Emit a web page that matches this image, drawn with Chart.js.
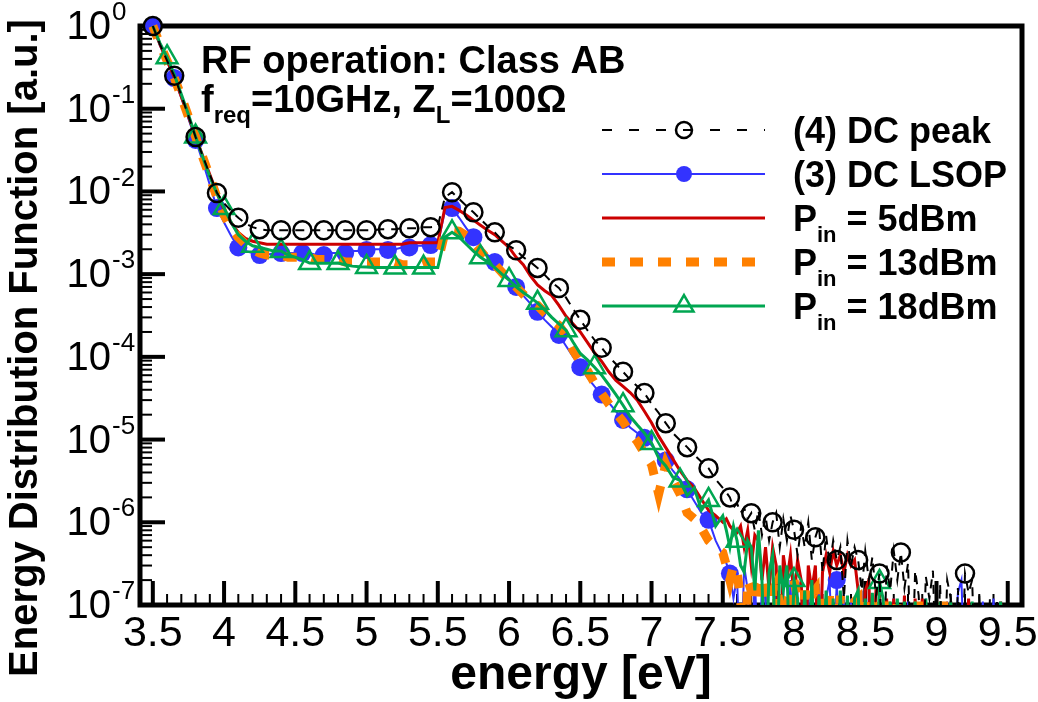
<!DOCTYPE html>
<html>
<head>
<meta charset="utf-8">
<title>Energy Distribution Function</title>
<script src="https://cdn.jsdelivr.net/npm/chart.js@4.4.1/dist/chart.umd.min.js"></script>
<style>
  html, body { margin: 0; padding: 0; background: #ffffff; }
  canvas { display: block; }
</style>
</head>
<body>
<canvas id="edf" width="1038" height="702"></canvas>
<script>
// Energy grid [eV]: 0.05 eV up to 7.45 eV, 0.025 eV through the noisy tail
const energy = [
  3.50, 3.55, 3.60, 3.65, 3.70, 3.75, 3.80, 3.85, 3.90, 3.95,
  4.00, 4.05, 4.10, 4.15, 4.20, 4.25, 4.30, 4.35, 4.40, 4.45,
  4.50, 4.55, 4.60, 4.65, 4.70, 4.75, 4.80, 4.85, 4.90, 4.95,
  5.00, 5.05, 5.10, 5.15, 5.20, 5.25, 5.30, 5.35, 5.40, 5.45,
  5.50, 5.55, 5.60, 5.65, 5.70, 5.75, 5.80, 5.85, 5.90, 5.95,
  6.00, 6.05, 6.10, 6.15, 6.20, 6.25, 6.30, 6.35, 6.40, 6.45,
  6.50, 6.55, 6.60, 6.65, 6.70, 6.75, 6.80, 6.85, 6.90, 6.95,
  7.00, 7.05, 7.10, 7.15, 7.20, 7.25, 7.30, 7.35, 7.40, 7.45,
  7.500, 7.525, 7.550, 7.575, 7.600, 7.625, 7.650, 7.675, 7.700, 7.725,
  7.750, 7.775, 7.800, 7.825, 7.850, 7.875, 7.900, 7.925, 7.950, 7.975,
  8.000, 8.025, 8.050, 8.075, 8.100, 8.125, 8.150, 8.175, 8.200, 8.225,
  8.250, 8.275, 8.300, 8.325, 8.350, 8.375, 8.400, 8.425, 8.450, 8.475,
  8.500, 8.525, 8.550, 8.575, 8.600, 8.625, 8.650, 8.675, 8.700, 8.725,
  8.750, 8.775, 8.800, 8.825, 8.850, 8.875, 8.900, 8.925, 8.950, 8.975,
  9.000, 9.025, 9.050, 9.075, 9.100, 9.125, 9.150, 9.175, 9.200, 9.225,
  9.250, 9.275, 9.300, 9.325, 9.350, 9.375, 9.400, 9.425, 9.450, 9.475,
  9.500, 9.525, 9.550, 9.575, 9.600
];

// (4) DC peak
const dcPeak = [
  1.0, 0.6, 0.38, 0.25, 0.145, 0.082, 0.0455, 0.027, 0.016, 0.0096,
  0.0072, 0.0058, 0.0048, 0.0041, 0.0037, 0.0035, 0.0034, 0.0034, 0.0034, 0.0034,
  0.0034, 0.0034, 0.0034, 0.0034, 0.0034, 0.0034, 0.0034, 0.0034, 0.0034, 0.0034,
  0.0034, 0.0034, 0.0035, 0.0035, 0.0035, 0.0036, 0.0036, 0.0036, 0.0037, 0.0037,
  0.0038, 0.0085, 0.0098, 0.0081, 0.0067, 0.0056, 0.0046, 0.0038, 0.0032, 0.0026,
  0.0022, 0.00195, 0.0016, 0.0014, 0.00119, 0.00098, 0.0008, 0.00068, 0.00052, 0.00038,
  0.00028, 0.00021, 0.00016, 0.000129, 0.0001, 0.000082, 0.000066, 0.000053, 0.000044, 0.0000365,
  0.000027, 0.000021, 0.0000158, 0.000012, 0.0000098, 0.0000081, 0.0000065, 0.0000054, 0.0000045, 0.0000033,
  2.6e-6, 2.3e-6, 2.0e-6, 1.5e-6, 1.7e-6, 1.3e-6, 1.5e-6, 1.1e-6, 1.29e-6, 8e-7,
  1.4e-6, 7e-7, 1.2e-6, 6e-7, 1.0e-6, 1.3e-6, 5e-7, 1.1e-6, 6e-7, 1.2e-6,
  8.1e-7, 4e-7, 9e-7, 5e-7, 1.0e-6, 3.5e-7, 6.6e-7, 9e-7, 2.5e-7, 7e-7,
  3e-7, 6e-7, 3.5e-7, 5e-7, 1.2e-7, 6e-7, 3e-7, 5e-7, 3.5e-7, 1.5e-7,
  4.5e-7, 2e-7, 3.8e-7, 1.3e-7, 2.4e-7, 1e-8, 3e-7, 1.5e-7, 4.5e-7, 2e-7,
  4.3e-7, 1.6e-7, 3.2e-7, 1e-8, 2.6e-7, 1.3e-7, 1e-8, 2.2e-7, 1.2e-7, 2.6e-7,
  1e-8, 1.8e-7, 1e-8, 2e-7, 1.2e-7, 1e-8, 1.6e-7, 1e-8, 2.4e-7, 1.4e-7,
  2e-7, 1e-8, 1.3e-7, 1e-8, 1e-8, 1.2e-7, 1e-8, 1.1e-7, 1e-8, 1e-8,
  1e-8, 1e-8, 1e-8, 1e-8, 1e-8
];

// (3) DC LSOP
const dcLsop = [
  1.0, 0.58, 0.37, 0.235, 0.135, 0.076, 0.042, 0.023, 0.012, 0.0063,
  0.0042, 0.0029, 0.0021, 0.0019, 0.0018, 0.0017, 0.0017, 0.0018, 0.0018, 0.0018,
  0.0018, 0.0018, 0.0018, 0.0017, 0.0017, 0.0018, 0.0018, 0.0018, 0.0019, 0.0019,
  0.00196, 0.002, 0.002, 0.00196, 0.002, 0.0021, 0.0021, 0.0022, 0.0022, 0.00225,
  0.0023, 0.0058, 0.0063, 0.0048, 0.0036, 0.0028, 0.0022, 0.0017, 0.0014, 0.0011,
  0.00088, 0.0007, 0.00055, 0.00044, 0.00035, 0.00028, 0.00023, 0.000184, 0.000135, 0.0001,
  0.000075, 0.000056, 0.000044, 0.000035, 0.000028, 0.000022, 0.0000173, 0.000014, 0.000012, 0.0000105,
  0.0000085, 0.0000068, 0.0000056, 0.0000042, 0.0000033, 0.0000025, 0.0000018, 0.0000013, 0.00000107, 0.0000006,
  4e-7, 3.2e-7, 2.4e-7, 1.2e-7, 2.2e-7, 1e-8, 3e-7, 1.5e-7, 1e-8, 2.5e-7,
  1e-8, 1.8e-7, 1.2e-7, 1e-8, 1e-8, 2.2e-7, 1e-8, 1.5e-7, 1e-8, 2e-7,
  1e-8, 1.5e-7, 2e-7, 1e-8, 1.5e-7, 1e-8, 1e-8, 1.8e-7, 1e-8, 1.2e-7,
  2e-7, 1e-8, 2e-7, 1e-8, 1.4e-7, 1e-8, 1.2e-7, 1e-8, 1e-8, 1.5e-7,
  1e-8, 1.2e-7, 1e-8, 1e-8, 1e-8, 1.3e-7, 1e-8, 1e-8, 1.2e-7, 1e-8,
  1e-8, 1e-8, 1.1e-7, 1e-8, 1e-8, 1e-8, 1e-8, 1.2e-7, 1e-8, 1e-8,
  1e-8, 1e-8, 1e-8, 1.1e-7, 1e-8, 1e-8, 1.4e-7, 2e-7, 1e-8, 1e-8,
  1e-8, 1e-8, 1e-8, 1.1e-7, 1e-8, 1e-8, 1.2e-7, 1e-8, 1e-8, 1e-8,
  1e-8, 1e-8, 1e-8, 1e-8, 1e-8
];

// Pin = 5 dBm
const pin5 = [
  1.0, 0.6, 0.38, 0.24, 0.14, 0.08, 0.046, 0.027, 0.016, 0.0095,
  0.006, 0.0042, 0.0032, 0.0027, 0.0025, 0.0024, 0.0023, 0.0023, 0.0023, 0.0023,
  0.0023, 0.0023, 0.0023, 0.0023, 0.0023, 0.0023, 0.0023, 0.0023, 0.0023, 0.0023,
  0.0023, 0.0023, 0.0023, 0.0023, 0.0023, 0.0023, 0.0024, 0.0024, 0.0024, 0.0024,
  0.0024, 0.0064, 0.0066, 0.0059, 0.0052, 0.0045, 0.0039, 0.0034, 0.003, 0.0025,
  0.0021, 0.0016, 0.0013, 0.00095, 0.00074, 0.00063, 0.00055, 0.00042, 0.00031, 0.00025,
  0.0002, 0.00015, 0.000112, 0.000088, 0.000066, 0.000052, 0.000044, 0.000037, 0.00003, 0.000022,
  0.000016, 0.000011, 0.000008, 0.0000058, 0.0000042, 0.0000032, 0.0000026, 0.0000019, 0.0000014, 0.0000012,
  1.0e-6, 1.1e-6, 9e-7, 8e-7, 7.5e-7, 9e-7, 5e-7, 8e-7, 3e-7, 7e-7,
  6e-7, 2e-7, 5e-7, 1.5e-7, 5e-7, 3e-7, 1e-8, 4e-7, 2e-7, 4e-7,
  1.2e-7, 3.5e-7, 2e-7, 1e-8, 3e-7, 1.5e-7, 3e-7, 1e-8, 2.5e-7, 4e-7,
  2.5e-7, 4.5e-7, 3e-7, 4e-7, 2.5e-7, 4e-7, 3e-7, 3.5e-7, 1.5e-7, 1e-8,
  1.5e-7, 2e-7, 1e-8, 1.5e-7, 1.3e-7, 1e-8, 1.2e-7, 1e-8, 1.2e-7, 1e-8,
  1e-8, 1.3e-7, 1e-8, 1e-8, 1.2e-7, 1e-8, 1.2e-7, 1e-8, 1e-8, 1e-8,
  1e-8, 1.1e-7, 1e-8, 1e-8, 1.1e-7, 1e-8, 1e-8, 1e-8, 1e-8, 1.2e-7,
  1e-8, 1e-8, 1e-8, 1e-8, 1e-8, 1e-8, 1e-8, 1e-8, 1.1e-7, 1e-8,
  1e-8, 1e-8, 1e-8, 1e-8, 1e-8
];

// Pin = 13 dBm
const pin13 = [
  1.0, 0.6, 0.38, 0.24, 0.14, 0.08, 0.046, 0.026, 0.015, 0.0085,
  0.0052, 0.0036, 0.0028, 0.0023, 0.002, 0.0018, 0.0017, 0.0017, 0.0017, 0.0016,
  0.0016, 0.0016, 0.0016, 0.0015, 0.0015, 0.0015, 0.0015, 0.0014, 0.0014, 0.0014,
  0.0014, 0.0014, 0.0014, 0.0014, 0.0014, 0.0013, 0.0013, 0.0013, 0.0014, 0.0014,
  0.0014, 0.0032, 0.0034, 0.0033, 0.0029, 0.0024, 0.0019, 0.0015, 0.0013, 0.00105,
  0.00085, 0.0007, 0.00057, 0.00047, 0.00042, 0.00034, 0.00028, 0.00024, 0.00018, 0.00012,
  0.000088, 0.000068, 0.000048, 0.000036, 0.000027, 0.000021, 0.0000165, 0.000012, 0.0000095, 0.0000068,
  0.000005, 0.0000022, 0.000005, 0.0000032, 0.0000022, 0.0000013, 0.0000011, 8.5e-7, 6e-7, 5e-7,
  4.3e-7, 3e-7, 2e-7, 3e-7, 2.5e-7, 1.2e-7, 1e-8, 2e-7, 1.5e-7, 1e-8,
  1.8e-7, 2.2e-7, 1.2e-7, 1e-8, 1.5e-7, 1.8e-7, 1e-8, 1.2e-7, 1.5e-7, 1e-8,
  2e-7, 1.2e-7, 1e-8, 1.5e-7, 1e-8, 1.3e-7, 1.5e-7, 1e-8, 1.2e-7, 1e-8,
  1.4e-7, 1.2e-7, 1e-8, 1.3e-7, 1e-8, 1.2e-7, 1e-8, 1.1e-7, 1.2e-7, 1e-8,
  1.1e-7, 1e-8, 1e-8, 1.2e-7, 1e-8, 1e-8, 1.1e-7, 1e-8, 1e-8, 1.1e-7,
  1e-8, 1e-8, 1e-8, 1e-8, 1e-8, 1.1e-7, 1e-8, 1e-8, 1e-8, 1e-8,
  1e-8, 1e-8, 1.1e-7, 1e-8, 1e-8, 1e-8, 1e-8, 1e-8, 1e-8, 1e-8,
  1e-8, 1e-8, 1e-8, 1e-8, 1e-8, 1e-8, 1e-8, 1e-8, 1e-8, 1e-8,
  1e-8, 1e-8, 1e-8, 1e-8, 1e-8
];

// Pin = 18 dBm
const pin18 = [
  1.0, 0.62, 0.42, 0.26, 0.15, 0.085, 0.046, 0.026, 0.015, 0.0095,
  0.0063, 0.0042, 0.003, 0.0025, 0.0022, 0.0021, 0.002, 0.0019, 0.0019, 0.0017,
  0.0016, 0.0015, 0.00136, 0.00135, 0.00135, 0.00135, 0.00136, 0.0013, 0.00125, 0.00123,
  0.00122, 0.0012, 0.0012, 0.0012, 0.0012, 0.0012, 0.0012, 0.0012, 0.0012, 0.0012,
  0.0012, 0.0028, 0.0032, 0.0028, 0.0023, 0.0019, 0.0016, 0.0014, 0.0012, 0.001,
  0.00085, 0.0007, 0.0006, 0.00052, 0.00045, 0.00037, 0.0003, 0.00025, 0.00021, 0.00015,
  0.00011, 0.000092, 0.000075, 0.00006, 0.000046, 0.000035, 0.000026, 0.000019, 0.000015, 0.000012,
  0.0000091, 0.000006, 0.0000048, 0.0000035, 0.0000032, 0.0000021, 0.0000026, 0.0000014, 0.00000186, 0.0000009,
  1.2e-6, 8e-7, 5e-7, 9e-7, 6e-7, 3e-7, 2.5e-7, 6e-7, 5e-7, 1.5e-7,
  8e-7, 2e-7, 1e-8, 2.5e-7, 4e-7, 1e-8, 3e-7, 1.5e-7, 3e-7, 1e-8,
  2e-7, 1.2e-7, 1e-8, 1.5e-7, 1e-8, 2e-7, 1e-8, 1.3e-7, 1e-8, 1.5e-7,
  1e-8, 1.2e-7, 1e-8, 1.5e-7, 1e-8, 1.3e-7, 1e-8, 1.2e-7, 1.5e-7, 1e-8,
  1.2e-7, 1e-8, 1.4e-7, 1e-8, 1.9e-7, 1.2e-7, 1e-8, 1.1e-7, 1e-8, 1.2e-7,
  1e-8, 1.1e-7, 1e-8, 1e-8, 1.1e-7, 1e-8, 1e-8, 1.2e-7, 1e-8, 1e-8,
  1e-8, 1.1e-7, 1e-8, 1e-8, 1.1e-7, 1e-8, 1e-8, 1e-8, 1e-8, 1e-8,
  1.1e-7, 1e-8, 1e-8, 1e-8, 1e-8, 1e-8, 1e-8, 1e-8, 1.1e-7, 1e-8,
  1e-8, 1e-8, 1e-8, 1e-8, 1e-8
];

// Axis labelling
const xTickStep = 0.5;
const yDecades = [0, -1, -2, -3, -4, -5, -6, -7];
const xTitle = 'energy [eV]';
const yTitle = 'Energy Distribution Function [a.u.]';

// Rich-text pieces: a leading "_" marks a subscript
const legendLabels = [
  ['(4) DC peak'],
  ['(3) DC LSOP'],
  ['P', '_in', ' = 5dBm'],
  ['P', '_in', ' = 13dBm'],
  ['P', '_in', ' = 18dBm']
];
const noteLines = [
  ['RF operation: Class AB'],
  ['f', '_req', '=10GHz, Z', '_L', '=100\u03A9']
];

const FONT = "'Liberation Sans', Arial, Helvetica, sans-serif";
const NARROW = "'Liberation Sans Narrow', 'Liberation Sans', Arial, sans-serif";

const toPoints = values => energy.map((e, i) => ({ x: e, y: values[i] }));
// symbol size for samples lying on a regular energy spacing (every `step` eV from `start`)
const markOn = (step, start, r) => c => {
  const e = energy[c.dataIndex];
  if (e === undefined) return 0;
  const q = (e - start) / step;
  return q > -1e-9 && Math.abs(q - Math.round(q)) < 1e-6 ? r : 0;
};

const common = { fill: false, tension: 0, clip: { left: 12, top: 12, right: 0, bottom: 0 }, pointHoverRadius: 0 };

const datasets = [
  Object.assign({}, common, {
    label: '(4) DC peak', data: toPoints(dcPeak),
    borderColor: '#000000', borderWidth: 2, borderDash: [9, 7],
    pointStyle: 'circle', pointRadius: markOn(0.15, 3.5, 9), pointBorderWidth: 2.5,
    pointBorderColor: '#000000', pointBackgroundColor: 'rgba(0,0,0,0)', order: 1
  }),
  Object.assign({}, common, {
    label: '(3) DC LSOP', data: toPoints(dcLsop),
    borderColor: '#3333ff', borderWidth: 2,
    pointStyle: 'circle', pointRadius: markOn(0.15, 3.5, 9), pointBorderWidth: 0,
    pointBorderColor: '#3333ff', pointBackgroundColor: '#3333ff', order: 5
  }),
  Object.assign({}, common, {
    label: 'Pin = 5dBm', data: toPoints(pin5),
    borderColor: '#cc0000', borderWidth: 3, pointRadius: 0, order: 4
  }),
  Object.assign({}, common, {
    label: 'Pin = 13dBm', data: toPoints(pin13),
    borderColor: '#ff8000', borderWidth: 9, borderDash: [13, 15], borderCapStyle: 'butt',
    pointRadius: 0, order: 3
  }),
  Object.assign({}, common, {
    label: 'Pin = 18dBm', data: toPoints(pin18),
    borderColor: '#00a651', borderWidth: 3,
    pointStyle: 'triangle', pointRadius: markOn(0.2, 3.6, 12), pointBorderWidth: 2.5,
    pointBorderColor: '#00a651', pointBackgroundColor: 'rgba(0,0,0,0)', order: 2
  })
];

function drawRich(ctx, parts, x, baseline, size) {
  let cx = x;
  parts.forEach(p => {
    const sub = p.charAt(0) === '_';
    const t = sub ? p.slice(1) : p;
    ctx.font = 'bold ' + (sub ? Math.round(size * 0.62) : size) + 'px ' + FONT;
    ctx.fillText(t, cx, sub ? baseline + Math.round(size * 0.3) : baseline);
    cx += ctx.measureText(t).width;
  });
}

function drawMarker(ctx, style, x, y, r, ds) {
  ctx.save();
  ctx.setLineDash([]);
  ctx.lineWidth = ds.pointBorderWidth;
  ctx.strokeStyle = ds.pointBorderColor;
  ctx.fillStyle = ds.pointBackgroundColor;
  ctx.beginPath();
  if (style === 'triangle') {
    for (let k = 0; k < 3; k++) {
      const a = k * 2 * Math.PI / 3;
      const px = x + Math.sin(a) * r, py = y - Math.cos(a) * r;
      if (k === 0) ctx.moveTo(px, py); else ctx.lineTo(px, py);
    }
    ctx.closePath();
  } else {
    ctx.arc(x, y, r, 0, 2 * Math.PI);
  }
  ctx.fill();
  if (ds.pointBorderWidth > 0) ctx.stroke();
  ctx.restore();
}

// Frame, inward ticks and the power-of-ten labels
const axesFrame = {
  id: 'axesFrame',
  beforeDatasetsDraw(chart) {
    const { ctx, chartArea: a, scales: { x, y } } = chart;
    ctx.save();
    ctx.strokeStyle = '#000';
    ctx.lineCap = 'butt';
    yDecades.forEach(k => {
      for (let m = 1; m <= 9; m++) {
        if (k === 0 && m > 1) break;
        const py = y.getPixelForValue(m * Math.pow(10, k));
        const major = m === 1;
        ctx.lineWidth = major ? 4 : 2;
        ctx.beginPath();
        ctx.moveTo(a.left, py);
        ctx.lineTo(a.left + (major ? 25 : 12), py);
        ctx.stroke();
      }
    });
    for (let t = 35; t <= 96; t++) {
      const px = x.getPixelForValue(t / 10);
      const major = t % 5 === 0;
      ctx.lineWidth = major ? 4 : 2;
      ctx.beginPath();
      ctx.moveTo(px, a.bottom);
      ctx.lineTo(px, a.bottom - (major ? 24 : 11));
      ctx.stroke();
    }
    ctx.lineWidth = 5;
    ctx.lineJoin = 'miter';
    ctx.strokeRect(a.left, a.top, a.right - a.left, a.bottom - a.top);

    ctx.fillStyle = '#000';
    yDecades.forEach(k => {
      const py = y.getPixelForValue(Math.pow(10, k));
      ctx.font = '40px ' + FONT;
      ctx.textAlign = 'right';
      ctx.textBaseline = 'middle';
      ctx.fillText('10', 111, py + 2);
      ctx.font = '26px ' + FONT;
      ctx.textAlign = 'left';
      ctx.fillText(String(k), 112, py - 13);
    });

    ctx.save();
    ctx.translate(26, 348);
    ctx.rotate(-Math.PI / 2);
    ctx.font = 'bold 40px ' + FONT;
    ctx.textAlign = 'center';
    ctx.textBaseline = 'middle';
    ctx.fillText(yTitle, 0, 0);
    ctx.restore();
    ctx.restore();
  },
  afterDraw(chart) {
    const ctx = chart.ctx;
    ctx.save();
    ctx.fillStyle = '#000';
    ctx.textAlign = 'left';
    ctx.textBaseline = 'alphabetic';
    drawRich(ctx, noteLines[0], 201, 73, 38);
    drawRich(ctx, noteLines[1], 201, 112, 38);

    const rows = [130, 174, 218, 262, 306];
    const x0 = 602, x1 = 765, xm = 684;
    chart.data.datasets.forEach((ds, k) => {
      const yy = rows[k];
      ctx.save();
      ctx.strokeStyle = ds.borderColor;
      ctx.lineWidth = ds.borderWidth;
      ctx.lineCap = ds.borderCapStyle || 'butt';
      ctx.setLineDash(k === 0 ? [10, 17] : (ds.borderDash || []));
      ctx.beginPath();
      ctx.moveTo(x0, yy);
      ctx.lineTo(x1, yy);
      ctx.stroke();
      ctx.restore();
      if (k === 0) drawMarker(ctx, 'circle', xm, yy, 8, ds);
      if (k === 1) drawMarker(ctx, 'circle', xm, yy, 8, ds);
      if (k === 4) drawMarker(ctx, 'triangle', xm, yy, 11, ds);
      ctx.fillStyle = '#000';
      drawRich(ctx, legendLabels[k], 793, yy + 13, 36);
    });
    ctx.restore();
  }
};

new Chart(document.getElementById('edf'), {
  type: 'line',
  data: { datasets },
  plugins: [axesFrame],
  options: {
    responsive: false,
    animation: false,
    devicePixelRatio: 1,
    events: [],
    layout: { padding: { left: 0, top: 26, right: 16, bottom: 0 } },
    plugins: { legend: { display: false }, tooltip: { enabled: false } },
    scales: {
      x: {
        type: 'linear', min: 3.41, max: 9.6,
        grid: { display: false, drawTicks: false },
        border: { display: false },
        ticks: {
          stepSize: xTickStep, includeBounds: false, autoSkip: false, maxRotation: 0,
          padding: 3, color: '#000', font: { family: NARROW, size: 43 },
          callback: v => String(v)
        },
        title: {
          display: true, text: xTitle, color: '#000',
          font: { family: FONT, size: 48, weight: 'bold', lineHeight: 1 },
          padding: { top: 0, bottom: 2 }
        },
        afterFit: s => { s.height = 97; s.paddingLeft = 0; s.paddingRight = 0; }
      },
      y: {
        type: 'logarithmic', min: 1e-7, max: 1,
        grid: { display: false, drawTicks: false },
        border: { display: false },
        ticks: { display: false },
        afterFit: s => { s.width = 140; s.paddingTop = 0; s.paddingBottom = 0; }
      }
    }
  }
});
</script>
</body>
</html>
